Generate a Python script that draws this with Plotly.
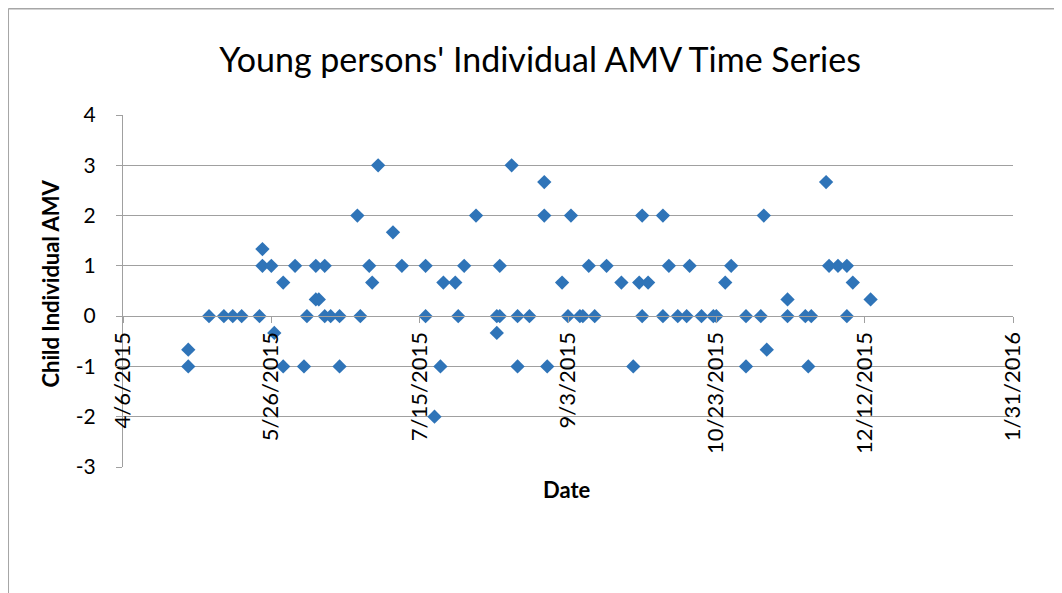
import plotly.graph_objects as go

# values
dates = [
    "2015-04-28", "2015-04-28", "2015-05-05", "2015-05-10", "2015-05-13", "2015-05-16",
    "2015-05-22", "2015-05-23", "2015-05-23", "2015-05-26", "2015-05-27", "2015-05-30",
    "2015-05-30", "2015-06-03", "2015-06-06", "2015-06-07", "2015-06-10", "2015-06-11",
    "2015-06-10", "2015-06-13", "2015-06-13", "2015-06-15", "2015-06-18", "2015-06-18",
    "2015-06-24", "2015-06-25", "2015-06-28", "2015-06-29", "2015-07-01", "2015-07-06",
    "2015-07-09",
    "2015-07-17", "2015-07-17", "2015-07-22", "2015-07-20", "2015-07-23", "2015-07-27",
    "2015-07-28", "2015-07-30", "2015-08-03", "2015-08-10", "2015-08-10", "2015-08-11",
    "2015-08-11", "2015-08-15", "2015-08-17", "2015-08-17", "2015-08-21", "2015-08-26",
    "2015-08-26", "2015-08-27",
    "2015-09-01", "2015-09-03", "2015-09-04", "2015-09-07", "2015-09-08", "2015-09-10",
    "2015-09-12", "2015-09-16", "2015-09-21", "2015-09-25", "2015-09-27", "2015-09-28",
    "2015-09-28", "2015-09-30", "2015-10-05", "2015-10-05", "2015-10-07", "2015-10-10",
    "2015-10-13", "2015-10-14", "2015-10-18", "2015-10-22", "2015-10-23", "2015-10-26",
    "2015-10-28", "2015-11-02", "2015-11-02", "2015-11-07", "2015-11-08", "2015-11-09",
    "2015-11-16", "2015-11-16", "2015-11-22", "2015-11-24", "2015-11-23", "2015-11-29",
    "2015-11-30", "2015-12-03", "2015-12-06", "2015-12-06", "2015-12-08", "2015-12-14",
]
amv = [
    -0.667, -1, 0, 0, 0, 0,
    0, 1.333, 1, 1, -0.333, 0.667,
    -1, 1, -1, 0, 0.333, 0.333,
    1, 1, 0, 0, 0, -1,
    2, 0, 1, 0.667, 3, 1.667,
    1,
    1, 0, -1, -2, 0.667, 0.667,
    0, 1, 2, -0.333, 0, 0,
    1, 3, 0, -1, 0, 2.667,
    2, -1,
    0.667, 0, 2, 0, 0, 1,
    0, 1, 0.667, -1, 0.667, 2,
    0, 0.667, 2, 0, 1, 0,
    0, 1, 0, 0, 0, 0.667,
    1, 0, -1, 0, 2, -0.667,
    0.333, 0, 0, 0, -1, 2.667,
    1, 1, 1, 0, 0.667, 0.333,
]

x_tick_dates = ["2015-04-06", "2015-05-26", "2015-07-15", "2015-09-03",
                "2015-10-23", "2015-12-12", "2016-01-31"]
x_tick_labels = ["4/6/2015", "5/26/2015", "7/15/2015", "9/3/2015",
                 "10/23/2015", "12/12/2015", "1/31/2016"]
y_ticks = [-3, -2, -1, 0, 1, 2, 3, 4]
y_tick_labels = ["-3", "-2", "-1", "0", "1", "2", "3", "4"]

grid = "#a0a0a0"
font = "Lato"

fig = go.Figure(
    go.Scatter(
        x=dates,
        y=amv,
        mode="markers",
        marker=dict(symbol="diamond", size=11, color="#2f74b8"),
        hoverinfo="x+y",
    )
)

y_min, y_max = -3, 4

fig.update_layout(
    width=1062,
    height=593,
    margin=dict(l=115, r=57, t=107, b=134),
    paper_bgcolor="white",
    plot_bgcolor="white",
    showlegend=False,
    font=dict(family=font, color="black"),
    title=dict(
        text="Young persons' Individual AMV Time Series",
        x=0.501, xanchor="center", y=0.912, yanchor="middle",
        font=dict(family=font, size=34, color="black"),
    ),
    xaxis=dict(
        type="date",
        range=[x_tick_dates[0], x_tick_dates[-1]],
        tickmode="array",
        tickvals=x_tick_dates,
        ticktext=x_tick_labels,
        tickangle=-90,
        tickfont=dict(family=font, size=22, color="black"),
        ticks="outside",
        ticklen=6,
        tickcolor=grid,
        showline=True,
        linecolor=grid,
        linewidth=1,
        showgrid=False,
        zeroline=False,
        anchor="free",
        position=(0 - y_min) / (y_max - y_min),
    ),
    yaxis=dict(
        range=[y_min, y_max],
        tickmode="array",
        tickvals=y_ticks,
        ticktext=y_tick_labels,
        tickfont=dict(family=font, size=21, color="black"),
        ticks="outside",
        ticklen=6,
        tickcolor=grid,
        ticklabelstandoff=16,
        showline=True,
        linecolor=grid,
        linewidth=1,
        showgrid=True,
        gridcolor=grid,
        gridwidth=1,
        zeroline=False,
    ),
    annotations=[
        dict(text="<b>Child Individual AMV</b>", xref="paper", yref="paper",
             x=-0.0814, y=0.52, xanchor="center", yanchor="middle",
             textangle=-90, showarrow=False,
             font=dict(family=font, size=22, color="black")),
        dict(text="<b>Date</b>", xref="paper", yref="paper", x=0.4988, y=-0.064,
             xanchor="center", yanchor="middle", showarrow=False,
             font=dict(family=font, size=22, color="black")),
    ],
    shapes=[
        # outer chart border (left and top edges visible)
        dict(type="line", xref="paper", yref="paper", x0=-0.1289, x1=-0.1289,
             y0=1.3016, y1=-0.5, line=dict(color="#a6a6a6", width=1.5)),
        dict(type="line", xref="paper", yref="paper", x0=-0.1289, x1=1.2,
             y0=1.3016, y1=1.3016, line=dict(color="#a6a6a6", width=1.5)),
    ],
)

fig.write_html("out.html")
